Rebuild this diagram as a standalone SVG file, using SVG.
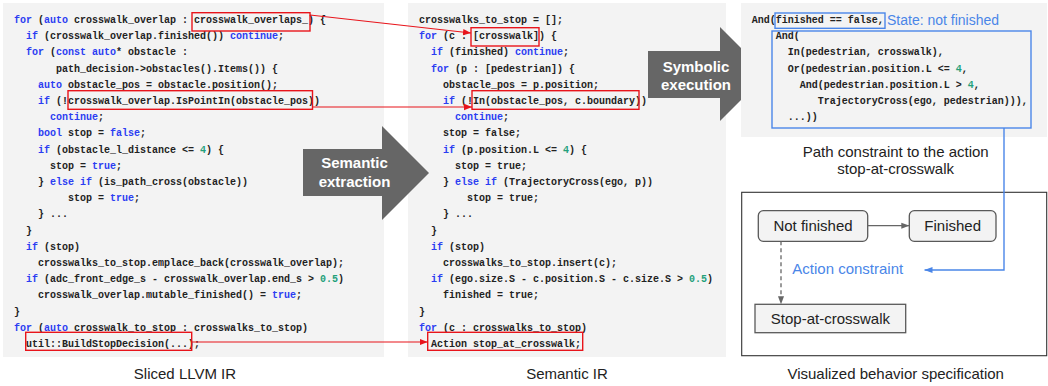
<svg xmlns="http://www.w3.org/2000/svg" width="1048" height="386" viewBox="0 0 1048 386">
  <style>
    .panel { fill: #f3f3f3; }
    .code { font-family: "Liberation Mono", "DejaVu Sans Mono", monospace; font-size: 10px; font-weight: bold; fill: #222; white-space: pre; }
    .k { fill: #2b3df2; }
    .n { fill: #23a07a; }
    .hl-red { fill: none; stroke: #e8141b; stroke-width: 1.4; }
    .hl-blue { fill: none; stroke: #4a86e8; stroke-width: 1.4; }
    .red-link { fill: none; stroke: #e8141b; stroke-width: 1.2; }
    .blue-link { fill: none; stroke: #4a86e8; stroke-width: 1.4; }
    .big-arrow { fill: #666666; }
    .arrow-text { font-family: "Liberation Sans", Arial, sans-serif; font-size: 15px; font-weight: bold; fill: #ffffff; text-anchor: middle; }
    .label { font-family: "Liberation Sans", Arial, sans-serif; font-size: 15px; fill: #222; text-anchor: middle; }
    .blue-text { font-family: "Liberation Sans", Arial, sans-serif; fill: #4a86e8; }
    .state { fill: #f3f3f3; stroke: #595959; stroke-width: 1.3; }
    .state-text { font-family: "Liberation Sans", Arial, sans-serif; font-size: 15px; fill: #222; text-anchor: middle; }
    .edge { fill: none; stroke: #666; stroke-width: 1.3; }
  </style>
  <defs>
    <marker id="redHead" markerUnits="userSpaceOnUse" markerWidth="8" markerHeight="8" viewBox="0 0 8 8" refX="8" refY="4" orient="auto">
      <path d="M0,0.8 L8,4 L0,7.2 Z" fill="#e8141b"/>
    </marker>
    <marker id="blueHead" markerUnits="userSpaceOnUse" markerWidth="8" markerHeight="8" viewBox="0 0 8 8" refX="8" refY="4" orient="auto">
      <path d="M0,1 L8,4 L0,7 Z" fill="#4a86e8"/>
    </marker>
    <marker id="grayHead" markerUnits="userSpaceOnUse" markerWidth="8" markerHeight="8" viewBox="0 0 8 8" refX="8" refY="4" orient="auto">
      <path d="M0,1 L8,4 L0,7 Z" fill="#666"/>
    </marker>
  </defs>

  <rect width="1048" height="386" fill="#ffffff"/>

  <!-- Sliced LLVM IR code panel -->
  <g id="sliced-ir">
    <rect class="panel" x="3" y="3" width="381" height="354"/>
    <text class="code">
      <tspan x="14" y="23"><tspan class="k">for</tspan> (<tspan class="k">auto</tspan> crosswalk_overlap : crosswalk_overlaps_) {</tspan>
      <tspan x="26" y="39.2"><tspan class="k">if</tspan> (crosswalk_overlap.finished()) <tspan class="k">continue</tspan>;</tspan>
      <tspan x="26" y="55.4"><tspan class="k">for</tspan> (<tspan class="k">const</tspan> <tspan class="k">auto</tspan>* obstacle :</tspan>
      <tspan x="56" y="71.6">path_decision-&gt;obstacles().Items()) {</tspan>
      <tspan x="38" y="87.8"><tspan class="k">auto</tspan> obstacle_pos = obstacle.position();</tspan>
      <tspan x="38" y="104"><tspan class="k">if</tspan> (!crosswalk_overlap.IsPointIn(obstacle_pos))</tspan>
      <tspan x="50" y="120.2"><tspan class="k">continue</tspan>;</tspan>
      <tspan x="38" y="136.4"><tspan class="k">bool</tspan> stop = <tspan class="k">false</tspan>;</tspan>
      <tspan x="38" y="152.6"><tspan class="k">if</tspan> (obstacle_l_distance &lt;= <tspan class="n">4</tspan>) {</tspan>
      <tspan x="50" y="168.8">stop = <tspan class="k">true</tspan>;</tspan>
      <tspan x="38" y="185">} <tspan class="k">else</tspan> <tspan class="k">if</tspan> (is_path_cross(obstacle))</tspan>
      <tspan x="68" y="201.2">stop = <tspan class="k">true</tspan>;</tspan>
      <tspan x="38" y="217.4">} ...</tspan>
      <tspan x="26" y="233.6">}</tspan>
      <tspan x="26" y="249.8"><tspan class="k">if</tspan> (stop)</tspan>
      <tspan x="38" y="266">crosswalks_to_stop.emplace_back(crosswalk_overlap);</tspan>
      <tspan x="26" y="282.2"><tspan class="k">if</tspan> (adc_front_edge_s - crosswalk_overlap.end_s &gt; <tspan class="n">0.5</tspan>)</tspan>
      <tspan x="38" y="298.4">crosswalk_overlap.mutable_finished() = <tspan class="k">true</tspan>;</tspan>
      <tspan x="14" y="314.6">}</tspan>
      <tspan x="14" y="330.8"><tspan class="k">for</tspan> (<tspan class="k">auto</tspan> crosswalk_to_stop : crosswalks_to_stop)</tspan>
      <tspan x="26" y="347">util::BuildStopDecision(...);</tspan>
    </text>
    <rect class="hl-red" x="192" y="12.7" width="118" height="18.3"/>
    <rect class="hl-red" x="68" y="90.7" width="244.5" height="18.6"/>
    <rect class="hl-red" x="25.7" y="332.3" width="166" height="18"/>
    <text class="label" x="185" y="379">Sliced LLVM IR</text>
  </g>

  <!-- Semantic IR code panel -->
  <g id="semantic-ir">
    <rect class="panel" x="408" y="3" width="318" height="354"/>
    <text class="code">
      <tspan x="419" y="23">crosswalks_to_stop = [];</tspan>
      <tspan x="419" y="39.2"><tspan class="k">for</tspan> (c : [crosswalk]) {</tspan>
      <tspan x="431" y="55.4"><tspan class="k">if</tspan> (finished) <tspan class="k">continue</tspan>;</tspan>
      <tspan x="431" y="71.6"><tspan class="k">for</tspan> (p : [pedestrian]) {</tspan>
      <tspan x="443" y="87.8">obstacle_pos = p.position;</tspan>
      <tspan x="443" y="104"><tspan class="k">if</tspan> (!In(obstacle_pos, c.boundary))</tspan>
      <tspan x="455" y="120.2"><tspan class="k">continue</tspan>;</tspan>
      <tspan x="443" y="136.4">stop = false;</tspan>
      <tspan x="443" y="152.6"><tspan class="k">if</tspan> (p.position.L &lt;= <tspan class="n">4</tspan>) {</tspan>
      <tspan x="455" y="168.8">stop = true;</tspan>
      <tspan x="443" y="185">} <tspan class="k">else</tspan> <tspan class="k">if</tspan> (TrajectoryCross(ego, p))</tspan>
      <tspan x="467" y="201.2">stop = true;</tspan>
      <tspan x="443" y="217.4">} ...</tspan>
      <tspan x="431" y="233.6">}</tspan>
      <tspan x="431" y="249.8"><tspan class="k">if</tspan> (stop)</tspan>
      <tspan x="443" y="266">crosswalks_to_stop.insert(c);</tspan>
      <tspan x="431" y="282.2"><tspan class="k">if</tspan> (ego.size.S - c.position.S - c.size.S &gt; <tspan class="n">0.5</tspan>)</tspan>
      <tspan x="443" y="298.4">finished = true;</tspan>
      <tspan x="419" y="314.6">}</tspan>
      <tspan x="419" y="330.8"><tspan class="k">for</tspan> (c : crosswalks_to_stop)</tspan>
      <tspan x="431" y="347">Action stop_at_crosswalk;</tspan>
    </text>
    <rect class="hl-red" x="471" y="27.7" width="68" height="18.3"/>
    <rect class="hl-red" x="472" y="90.7" width="167" height="18.6"/>
    <rect class="hl-red" x="427.7" y="332.3" width="155" height="18"/>
    <text class="label" x="567" y="379">Semantic IR</text>
  </g>

  <!-- Transformation arrows -->
  <g id="semantic-extraction">
    <polygon class="big-arrow" points="303,149 382,149 382,126 429,173 382,220 382,196 303,196"/>
    <text class="arrow-text" x="354.5" y="168.3">Semantic</text>
    <text class="arrow-text" x="354.5" y="186.7">extraction</text>
  </g>
  <g id="symbolic-execution">
    <polygon class="big-arrow" points="648,51 720,51 720,27 767,74 720,121 720,98 648,98"/>
    <text class="arrow-text" x="696" y="71.5">Symbolic</text>
    <text class="arrow-text" x="696" y="89.5">execution</text>
  </g>

  <!-- Path constraint panel -->
  <g id="path-constraint">
    <rect class="panel" x="741" y="3" width="306" height="134"/>
    <text class="code">
      <tspan x="751.7" y="23">And(finished == false,</tspan>
      <tspan x="775.7" y="39.2">And(</tspan>
      <tspan x="787.7" y="55.4">In(pedestrian, crosswalk),</tspan>
      <tspan x="787.7" y="71.6">Or(pedestrian.position.L &lt;= <tspan class="n">4</tspan>,</tspan>
      <tspan x="799.7" y="87.8">And(pedestrian.position.L &gt; <tspan class="n">4</tspan>,</tspan>
      <tspan x="817.7" y="104">TrajectoryCross(ego, pedestrian))),</tspan>
      <tspan x="787.7" y="120.2">...))</tspan>
    </text>
    <rect class="hl-blue" x="775" y="13" width="110" height="15.3"/>
    <rect class="hl-blue" x="772" y="31" width="259" height="97"/>
    <text class="blue-text" x="887" y="25" font-size="14">State: not finished</text>
    <text class="label" x="895.7" y="156.7">Path constraint to the action</text>
    <text class="label" x="895.7" y="174">stop-at-crosswalk</text>
  </g>

  <!-- Behavior specification frame -->
  <g id="behavior-spec">
    <rect x="741.7" y="192.3" width="305" height="163.4" fill="#ffffff" stroke="#333" stroke-width="1.1"/>
    <text class="blue-text" x="792.3" y="274" font-size="15">Action constraint</text>
    <text class="label" x="895.7" y="379">Visualized behavior specification</text>
  </g>

  <g id="node-not-finished">
    <rect class="state" x="758.3" y="210.7" width="109.4" height="30.6" rx="5"/>
    <text class="state-text" x="813" y="231">Not finished</text>
  </g>
  <g id="node-finished">
    <rect class="state" x="909.3" y="210.7" width="86.7" height="30.6" rx="5"/>
    <text class="state-text" x="952.7" y="231">Finished</text>
  </g>
  <g id="node-stop-at-crosswalk">
    <rect class="state" x="755" y="304.3" width="150.7" height="28.4"/>
    <text class="state-text" x="830.4" y="323.5">Stop-at-crosswalk</text>
  </g>

  <!-- Connectors -->
  <g id="connectors">
    <path class="red-link" d="M310,15 L471,33" marker-end="url(#redHead)"/>
    <path class="red-link" d="M312.5,107 L472,107" marker-end="url(#redHead)"/>
    <path class="red-link" d="M191.7,342 L427.7,342" marker-end="url(#redHead)"/>
    <path class="blue-link" d="M1004,128 L1004,270 L924.5,270" marker-end="url(#blueHead)"/>
    <path class="edge" d="M867.7,225.7 L909.3,225.7" marker-end="url(#grayHead)"/>
    <path class="edge" d="M781,241.3 L781,304.3" stroke-dasharray="4,3" marker-end="url(#grayHead)"/>
  </g>
</svg>
